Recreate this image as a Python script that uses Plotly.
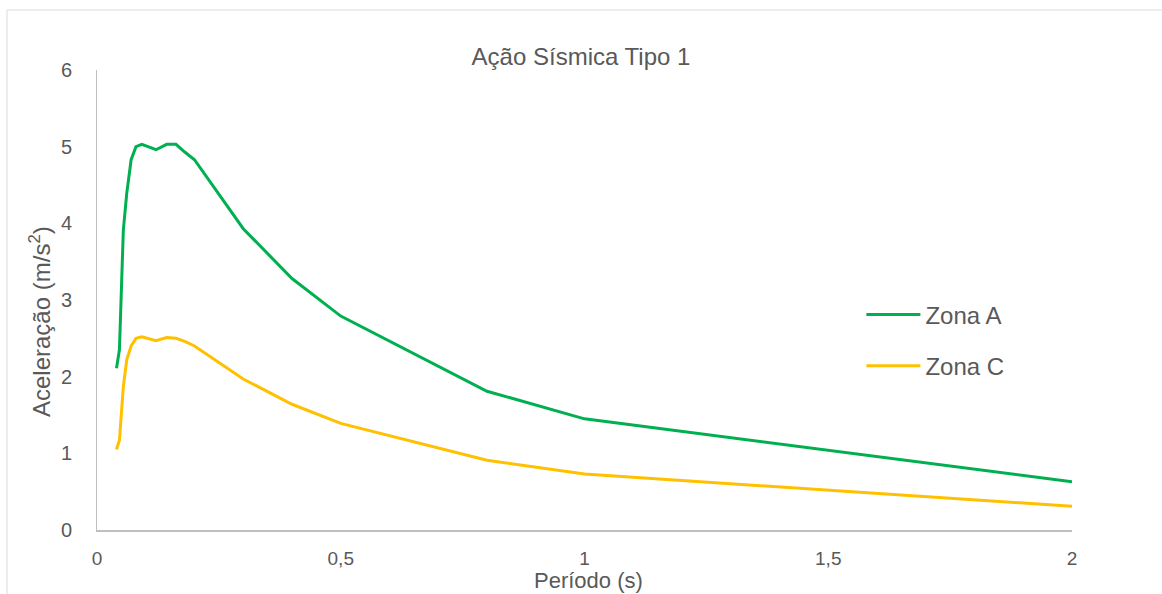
import plotly.graph_objects as go

periodo = [0.04, 0.046, 0.054, 0.061, 0.07, 0.08, 0.092, 0.121, 0.143, 0.162, 0.18, 0.2,
           0.3, 0.4, 0.5, 0.8, 1.0, 2.0]
zona_a = [2.11, 2.35, 3.91, 4.39, 4.83, 5.00, 5.03, 4.96, 5.03, 5.03, 4.93, 4.83,
          3.93, 3.28, 2.79, 1.81, 1.45, 0.63]
zona_c = [1.05, 1.17, 1.87, 2.22, 2.40, 2.50, 2.52, 2.47, 2.51, 2.50, 2.46, 2.40,
          1.97, 1.64, 1.39, 0.91, 0.73, 0.31]

titulo = "Ação Sísmica Tipo 1"
x_titulo = "Período (s)"
y_titulo = "Aceleração (m/s<sup>2</sup>)"
x_ticks = [0, 0.5, 1, 1.5, 2]
y_ticks = [0, 1, 2, 3, 4, 5, 6]

txt = "#595959"
axis_col = "#bfbfbf"
font_fam = "Liberation Sans, Arial, sans-serif"

fig = go.Figure()
fig.add_trace(go.Scatter(x=periodo, y=zona_a, mode="lines", name="Zona A",
                         legendgroup="a", line=dict(color="#00B050", width=3)))
fig.add_trace(go.Scatter(x=periodo, y=zona_c, mode="lines", name="Zona C",
                         legendgroup="c", line=dict(color="#FFC000", width=3)))

fig.update_layout(
    width=1162, height=594,
    margin=dict(l=97, r=90, t=70, b=64),
    paper_bgcolor="white", plot_bgcolor="white",
    separators=", ",
    font=dict(family=font_fam, color=txt, size=20),
    title=dict(text=titulo, x=0.5, xanchor="center", y=1 - 57 / 594, yanchor="middle",
               font=dict(size=24, color=txt)),
    legend=dict(x=0.784, y=0.412, xanchor="left", yanchor="middle",
                font=dict(size=24, color=txt), tracegroupgap=17,
                bgcolor="rgba(0,0,0,0)", itemwidth=54),
    showlegend=True,
)
fig.update_xaxes(range=[0, 2], tickvals=x_ticks, showgrid=False, zeroline=False,
                 showline=True, linecolor=axis_col, linewidth=2, ticks="",
                 automargin=False,
                 ticklabelstandoff=10, tickfont=dict(size=19, color=txt))
fig.update_yaxes(range=[0, 6], tickvals=y_ticks, showgrid=False, zeroline=False,
                 showline=True, linecolor=axis_col, linewidth=1, ticks="",
                 automargin=False,
                 ticklabelstandoff=20, tickfont=dict(size=20, color=txt))

# axis titles
fig.add_annotation(text=x_titulo, xref="paper", yref="paper",
                   x=(588 - 97) / 975, y=(530 - 580) / 460, xanchor="center", yanchor="middle",
                   showarrow=False, font=dict(size=22, color=txt))
fig.add_annotation(text=y_titulo, xref="paper", yref="paper", textangle=-90,
                   x=(40 - 97) / 975, y=(530 - 322) / 460, xanchor="center", yanchor="middle",
                   showarrow=False, font=dict(size=24, color=txt))

# outer chart-area border (top and left edges visible)
fig.add_shape(type="line", xref="paper", yref="paper", x0=(7 - 97) / 975, x1=1.2,
              y0=(530 - 10) / 460, y1=(530 - 10) / 460, line=dict(color="#d9d9d9", width=1))
fig.add_shape(type="line", xref="paper", yref="paper", x0=(7 - 97) / 975, x1=(7 - 97) / 975,
              y0=(530 - 10) / 460, y1=-0.3, line=dict(color="#d9d9d9", width=1))

fig.write_html("out.html", config={"displayModeBar": False},
               post_script="document.body.style.margin='0';")
